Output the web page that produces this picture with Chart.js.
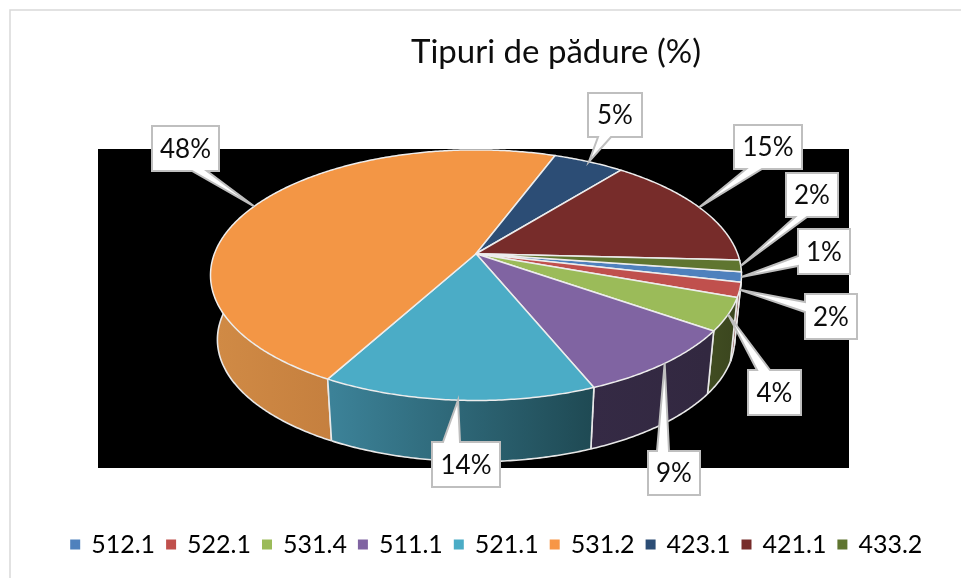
<!DOCTYPE html>
<html>
<head>
<meta charset="utf-8">
<style>html,body{margin:0;padding:0;background:#fff}#wrap{width:961px;height:578px}canvas{display:block}</style>
<script src="https://cdn.jsdelivr.net/npm/chart.js@4"></script>
</head>
<body>
<div id="wrap"><canvas id="c" width="961" height="578"></canvas></div>
<script>
// ---- data ----
const titleText = 'Tipuri de pădure (%)';
const categories = ['512.1','522.1','531.4','511.1','521.1','531.2','423.1','421.1','433.2'];
const shares = [1.3,1.9,4.2,9.1,14.2,47.7,5.1,15.0,1.5];

// ---- styles ----
const topColors = ['#4F81BD','#C0504D','#9BBB59','#8064A2','#4BACC6','#F39645','#2C4D75','#772C2A','#5F7530'];
const legendColors = ['#4F81BD','#C0504D','#9BBB59','#8064A2','#4BACC6','#F79646','#2C4D75','#772C2A','#5F7530'];
const sideFrom = ['#2F4D71','#733030','#414D22','#352A45','#3C8298','#D08A45','#1A2E46','#471A19','#39461D'];
const sideTo   = ['#2F4D71','#733030','#3C471F','#322840','#1F4A54','#B06B32','#1A2E46','#471A19','#39461D'];
const startDeg = 98.3;

// perspective of the pie disc and thickness of the drum
const VIEW = {sx:1.185, sy:0.551, k:0.171, shrink:0.974, depth:65};
// label boxes: left, top, width, height, side of the pointer, pointer base start, end
const callouts = [
  [798,229,52,45,'left',256,266],
  [805,294,52,45,'left',302,312],
  [748,370,53,45,'top',757,770],
  [648,451,52,44,'top',657,669],
  [432,442,68,45,'top',443,460],
  [152,126,67,45,'bottom',192,207],
  [588,93,54,44,'bottom',598,611],
  [734,125,68,44,'bottom',746,762],
  [786,173,52,44,'bottom',795,807]
];

function project(el, angle, bottom){
  const u = Math.cos(angle), v = Math.sin(angle), w = 1 - VIEW.k*v, R = el.outerRadius;
  const dx = R*VIEW.sx*u/w, dy = R*VIEW.sy*v/w;
  if(!bottom) return [el.x+dx, el.y+dy];
  return [el.x+dx*VIEW.shrink, el.y+dy*VIEW.shrink+VIEW.depth];
}
function edgeAngles(el){
  const n = Math.max(2, Math.ceil((el.endAngle-el.startAngle)/0.01)), a=[];
  for(let i=0;i<=n;i++) a.push(el.startAngle+(el.endAngle-el.startAngle)*i/n);
  return a;
}

const pie3d = {
  id:'pie3d',
  afterLayout(chart){
    const t = chart.titleBlock, l = chart.legend;
    t.left += 80; t.right += 80; t.top += 36; t.bottom += 36;
    l.left += 21; l.right += 21; l.top += 45; l.bottom += 45;
  },
  beforeDraw(chart){
    const g = chart.ctx;
    g.save();
    g.fillStyle='#fff'; g.fillRect(0,0,961,578);
    g.strokeStyle='#D9D9D9'; g.lineWidth=1.5;
    g.strokeRect(10,10,1000,640);
    g.restore();
  },
  beforeDatasetsDraw(chart){
    const g = chart.ctx, arcs = chart.getDatasetMeta(0).data;
    g.save();
    g.fillStyle='#000'; g.fillRect(98,149,751,319);

    // drum side, back to front
    const order = arcs.map((a,i)=>i).sort((p,q)=>
      Math.sin((arcs[p].startAngle+arcs[p].endAngle)/2)-Math.sin((arcs[q].startAngle+arcs[q].endAngle)/2));
    order.forEach(i=>{
      const el = arcs[i], as = edgeAngles(el);
      const xs = as.map(a=>project(el,a,true)[0]);
      const grad = g.createLinearGradient(Math.min(...xs),0,Math.max(...xs),0);
      grad.addColorStop(0,sideFrom[i]); grad.addColorStop(1,sideTo[i]);
      g.fillStyle = grad;
      g.beginPath();
      for(let j=0;j<as.length-1;j++){
        const a=project(el,as[j]), b=project(el,as[j+1]), c=project(el,as[j+1],true), d=project(el,as[j],true);
        g.moveTo(a[0],a[1]); g.lineTo(b[0],b[1]); g.lineTo(c[0],c[1]); g.lineTo(d[0],d[1]); g.closePath();
      }
      g.fill();
      g.strokeStyle='#E8E8E8'; g.lineWidth=1.6; g.lineJoin='round';
      g.beginPath();
      as.forEach((a,j)=>{const p=project(el,a,true); j?g.lineTo(p[0],p[1]):g.moveTo(p[0],p[1]);});
      g.stroke();
      [el.startAngle,el.endAngle].forEach(a=>{
        const p=project(el,a), q=project(el,a,true);
        g.beginPath(); g.moveTo(p[0],p[1]); g.lineTo(q[0],q[1]); g.stroke();
      });
    });

    // top surface
    arcs.forEach((el,i)=>{
      g.beginPath(); g.moveTo(el.x,el.y);
      edgeAngles(el).forEach(a=>{const p=project(el,a); g.lineTo(p[0],p[1]);});
      g.closePath();
      g.fillStyle=topColors[i]; g.fill();
      g.strokeStyle='#EDEDED'; g.lineWidth=1.5; g.lineJoin='round'; g.stroke();
    });

    // callout labels
    const total = shares.reduce((s,v)=>s+v,0);
    arcs.forEach((el,i)=>{
      const [x,y,w,h,side,b0,b1] = callouts[i];
      const tip = project(el,(el.startAngle+el.endAngle)/2);
      g.beginPath(); g.moveTo(x,y);
      if(side==='top'){g.lineTo(b0,y);g.lineTo(tip[0],tip[1]);g.lineTo(b1,y);}
      g.lineTo(x+w,y); g.lineTo(x+w,y+h);
      if(side==='bottom'){g.lineTo(b1,y+h);g.lineTo(tip[0],tip[1]);g.lineTo(b0,y+h);}
      g.lineTo(x,y+h);
      if(side==='left'){g.lineTo(x,b1);g.lineTo(tip[0],tip[1]);g.lineTo(x,b0);}
      g.closePath();
      g.fillStyle='#fff'; g.fill();
      g.strokeStyle='#BFBFBF'; g.lineWidth=2; g.lineJoin='miter'; g.stroke();
      g.fillStyle='#0D0D0D'; g.font='26px Lato'; g.textAlign='center'; g.textBaseline='middle';
      g.fillText(Math.round(shares[i]/total*100)+'%', x+w/2, y+h/2+1);
    });
    g.restore();
    return false;
  }
};

new Chart(document.getElementById('c'),{
  type:'pie',
  data:{labels:categories,datasets:[{data:shares,backgroundColor:topColors,borderWidth:0}]},
  plugins:[pie3d],
  options:{
    responsive:false,
    animation:false,
    rotation:startDeg,
    layout:{padding:{top:0,bottom:56,left:0,right:9}},
    plugins:{
      tooltip:{enabled:false},
      title:{display:true,text:titleText,color:'#0D0D0D',padding:{top:0,bottom:0},
             font:{family:'Lato',size:33,weight:'normal',lineHeight:1}},
      legend:{position:'bottom',
        labels:{font:{family:'Lato',size:25},color:'#0D0D0D',boxWidth:7,boxHeight:7,padding:12.5,
          generateLabels(){return categories.map((text,i)=>({text,fillStyle:legendColors[i],strokeStyle:legendColors[i],lineWidth:3,hidden:false,index:i}));}}}
    }
  }
});
</script>
</body>
</html>
